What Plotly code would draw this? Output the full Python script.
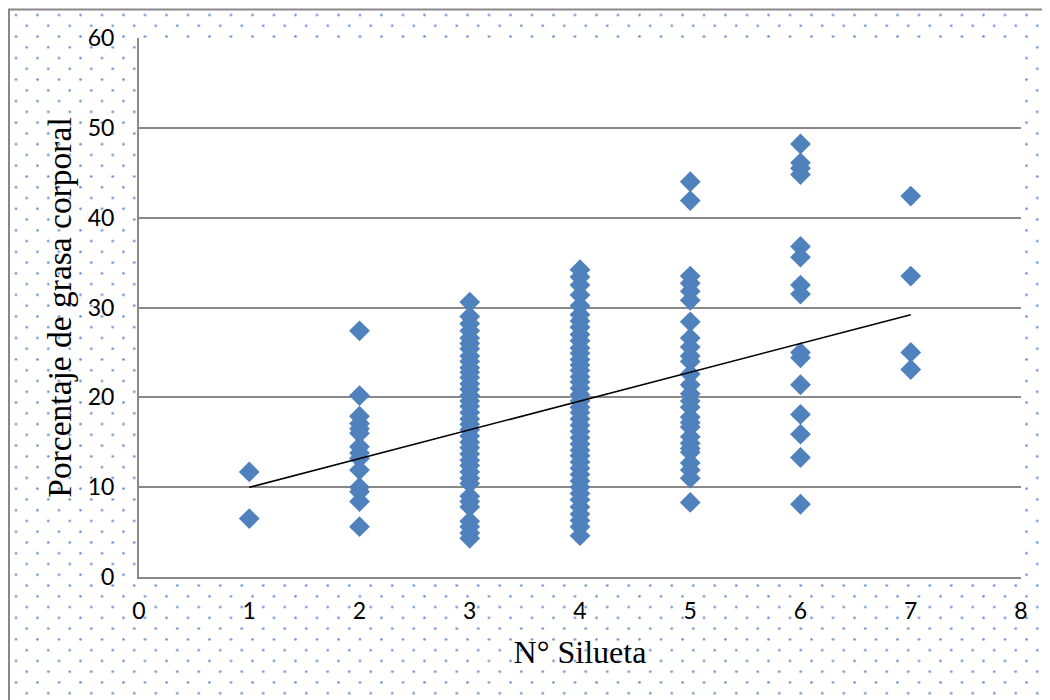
import base64
import plotly.graph_objects as go

# ---- data (N° Silueta vs % grasa corporal) ----
pct_s1 = [11.7, 6.5]
pct_s2 = [27.4, 20.2, 17.9, 17.1, 16.5, 16.0, 14.5, 13.8, 13.2, 11.9, 10.0, 9.5, 8.4, 5.6]
pct_s3 = [30.6, 29.0, 28.2, 27.4, 26.6, 26.0, 25.4, 24.6, 24.0, 23.3, 22.8, 22.2, 21.5,
          20.9, 20.2, 19.6, 19.0, 18.3, 17.6, 17.0, 16.4, 15.7, 15.0, 14.4, 13.7, 13.0,
          12.4, 11.7, 11.0, 10.4, 9.0, 8.4, 7.8, 6.2, 5.6, 4.9, 4.3]
pct_s4 = [34.2, 33.4, 32.5, 31.4, 30.2, 29.2, 28.5, 27.8, 27.0, 26.3, 25.5, 24.9, 24.2,
          23.6, 23.0, 22.3, 21.7, 21.0, 20.3, 19.6, 18.9, 18.3, 17.6, 16.9, 16.2, 15.5,
          14.8, 14.1, 13.5, 12.8, 12.1, 11.4, 10.7, 10.0, 9.3, 8.6, 7.8, 7.0, 6.3, 5.6, 4.6]
pct_s5 = [44.0, 41.9, 33.5, 32.7, 31.8, 30.8, 28.4, 26.6, 25.6, 24.6, 24.0, 22.6, 21.4,
          20.4, 19.6, 18.9, 17.8, 17.2, 16.7, 15.6, 14.9, 14.3, 13.9, 12.7, 11.9, 11.0, 8.3]
pct_s6 = [48.2, 46.1, 45.5, 44.8, 36.8, 35.6, 32.5, 31.5, 25.0, 24.4, 21.4, 18.1, 15.9, 13.3, 8.1]
pct_s7 = [42.4, 33.5, 25.0, 23.1]

silueta_groups = [1, 2, 3, 4, 5, 6, 7]
pct_groups = [pct_s1, pct_s2, pct_s3, pct_s4, pct_s5, pct_s6, pct_s7]

trend_x = [1, 7]
trend_y = [9.98, 29.2]

x_ticks = [0, 1, 2, 3, 4, 5, 6, 7, 8]
y_ticks = [0, 10, 20, 30, 40, 50, 60]

# ---- build points ----
xs, ys = [], []
for s, vals in zip(silueta_groups, pct_groups):
    xs.extend([s] * len(vals))
    ys.extend(vals)

# page body has an 8px margin: figure is placed at (8, 8) in the window
OFF = 8
W, H = 1050 - OFF, 700 - OFF


def fx(X):
    return (X - OFF) / W


def fy(Y):
    return 1 - (Y - OFF) / H


plot_l, plot_r, plot_t, plot_b = 139, 1021, 38, 577
dom_x = [fx(plot_l), fx(plot_r)]
dom_y = [fy(plot_b), fy(plot_t)]

fig = go.Figure()
fig.add_trace(go.Scatter(
    x=xs, y=ys, mode="markers",
    marker=dict(symbol="diamond", size=16, color="#4F81BD", line=dict(width=0)),
    hoverinfo="skip", showlegend=False))
fig.add_trace(go.Scatter(
    x=trend_x, y=trend_y, mode="lines",
    line=dict(color="black", width=1.6),
    hoverinfo="skip", showlegend=False))

# dotted background texture (chart-area fill)
svg = (f'<svg xmlns="http://www.w3.org/2000/svg" width="{W}" height="{H}" viewBox="0 0 {W} {H}">'
       '<defs><pattern id="d" patternUnits="userSpaceOnUse" x="2.625" y="1.62" width="21.5" height="21.53">'
       '<circle cx="5.375" cy="5.38" r="1.3" fill="#6490d2"/>'
       '<circle cx="16.125" cy="16.15" r="1.3" fill="#6490d2"/>'
       '</pattern></defs>'
       f'<rect x="1" y="2" width="{W}" height="{H}" fill="url(#d)"/></svg>')
uri = "data:image/svg+xml;base64," + base64.b64encode(svg.encode()).decode()

grid_col = "#898989"
fig.update_layout(
    template="none",
    width=W, height=H, autosize=False,
    margin=dict(l=0, r=0, t=0, b=0, pad=0),
    paper_bgcolor="white", plot_bgcolor="white",
    showlegend=False,
    images=[dict(source=uri, xref="paper", yref="paper", x=0, y=1, sizex=1, sizey=1,
                 xanchor="left", yanchor="top", sizing="stretch", layer="below")],
    shapes=[
        dict(type="rect", xref="paper", yref="paper", x0=fx(9), x1=1.05, y0=-0.05, y1=fy(9.5),
             line=dict(color="#878787", width=2), fillcolor="rgba(0,0,0,0)", layer="below"),
        dict(type="rect", xref="paper", yref="paper", x0=dom_x[0], x1=dom_x[1], y0=dom_y[0], y1=dom_y[1],
             line=dict(width=0), fillcolor="white", layer="below"),
    ],
    xaxis=dict(domain=dom_x, range=[0, 8], tickvals=x_ticks, ticktext=[str(v) for v in x_ticks],
               automargin=False,
               showgrid=False, zeroline=False, showline=True, linecolor=grid_col, linewidth=2,
               ticks="", ticklabelstandoff=12,
               tickfont=dict(family="Lato", size=23, color="black"),
               title=dict(text="N° Silueta", standoff=18,
                          font=dict(family="Liberation Serif", size=32, color="black"))),
    yaxis=dict(domain=dom_y, range=[0, 60], tickvals=y_ticks, ticktext=[str(v) for v in y_ticks],
               automargin=False,
               showgrid=True, gridcolor=grid_col, gridwidth=2, zeroline=False,
               showline=True, linecolor=grid_col, linewidth=2,
               ticks="", ticklabelstandoff=18,
               tickfont=dict(family="Lato", size=23, color="black"),
               title=dict(text="Porcentaje de grasa corporal", standoff=6,
                          font=dict(family="Liberation Serif", size=33.5, color="black"))),
)

fig.write_html("out.html", config={"displayModeBar": False})
